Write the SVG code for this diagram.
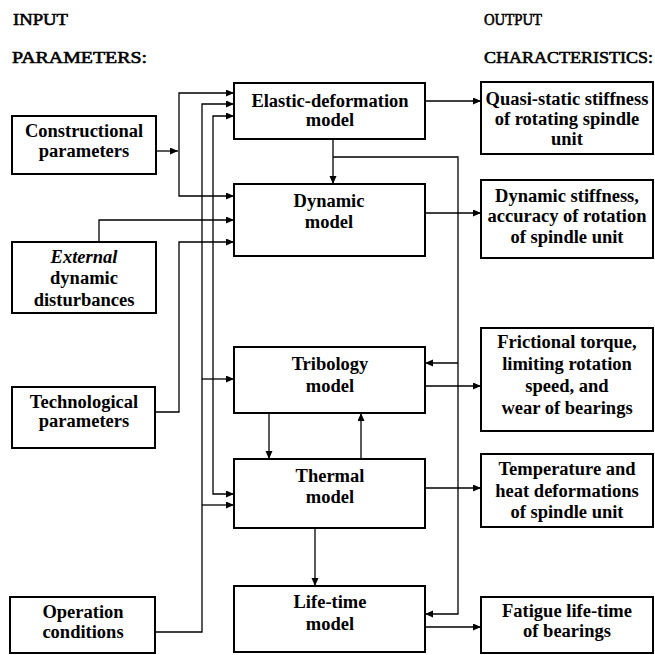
<svg xmlns="http://www.w3.org/2000/svg" width="655" height="655" viewBox="0 0 655 655">
<defs>
<marker id="ah" markerWidth="9" markerHeight="8" refX="8" refY="3.5" orient="auto" markerUnits="userSpaceOnUse">
<path d="M0,0 L8,3.5 L0,7 z" fill="#000"/>
</marker>
<style>
.box{fill:#fff;stroke:#000;stroke-width:2}
.t{font-family:"Liberation Serif","Times New Roman",serif;font-weight:bold;font-size:18.5px;text-anchor:middle;fill:#000}
.h{font-family:"Liberation Serif","Times New Roman",serif;font-size:17px;fill:#000;stroke:#000;stroke-width:0.6}
.c{fill:none;stroke:#000;stroke-width:1.3}
.a{marker-end:url(#ah)}
</style>
</defs>
<rect width="655" height="655" fill="#fff"/>

<g id="headers">
<text class="h" x="13" y="25" textLength="55" lengthAdjust="spacingAndGlyphs">INPUT</text>
<text class="h" x="12" y="63" textLength="135" lengthAdjust="spacingAndGlyphs">PARAMETERS:</text>
<text class="h" x="484" y="25" textLength="58" lengthAdjust="spacingAndGlyphs">OUTPUT</text>
<text class="h" x="484" y="63" textLength="169" lengthAdjust="spacingAndGlyphs">CHARACTERISTICS:</text>
</g>

<g id="connectors">
<path class="c a" d="M156,151 H178"/>
<path class="c a" d="M179,151 V93 H234"/>
<path class="c a" d="M179,151 V196 H234"/>
<path class="c a" d="M99,242 V220 H234"/>
<path class="c a" d="M155,412 H179 V242 H234"/>
<path class="c a" d="M155,632 H202 V104 H234"/>
<path class="c a" d="M202,379 H234"/>
<path class="c a" d="M202,505 H234"/>
<path class="c a" d="M213,300 V116 H234"/>
<path class="c a" d="M213,300 V494 H234"/>
<path class="c a" d="M333,139 V184"/>
<path class="c a" d="M333,157 H458 V614 H425"/>
<path class="c a" d="M458,363 H425"/>
<path class="c a" d="M425,101 H481"/>
<path class="c a" d="M425,213 H481"/>
<path class="c a" d="M425,386 H481"/>
<path class="c a" d="M425,488 H481"/>
<path class="c a" d="M425,627 H481"/>
<path class="c a" d="M269,413 V459"/>
<path class="c a" d="M361,459 V413"/>
<path class="c a" d="M315,528 V586"/>
</g>

<g id="constructional">
<rect class="box" x="12" y="116" width="144" height="58"/>
<text class="t" x="84" y="137">Constructional</text>
<text class="t" x="84" y="157">parameters</text>
</g>
<g id="external">
<rect class="box" x="12" y="242" width="144" height="71"/>
<text class="t" x="84" y="263" font-style="italic">External</text>
<text class="t" x="84" y="284">dynamic</text>
<text class="t" x="84" y="306">disturbances</text>
</g>
<g id="technological">
<rect class="box" x="12" y="387" width="143" height="61"/>
<text class="t" x="84" y="408">Technological</text>
<text class="t" x="84" y="427">parameters</text>
</g>
<g id="operation">
<rect class="box" x="10" y="597" width="145" height="56"/>
<text class="t" x="83" y="618">Operation</text>
<text class="t" x="83" y="638">conditions</text>
</g>

<g id="elastic">
<rect class="box" x="234" y="83" width="191" height="56"/>
<text class="t" x="330" y="107">Elastic-deformation</text>
<text class="t" x="330" y="126">model</text>
</g>
<g id="dynamic">
<rect class="box" x="234" y="184" width="191" height="72"/>
<text class="t" x="329" y="207">Dynamic</text>
<text class="t" x="329" y="228">model</text>
</g>
<g id="tribology">
<rect class="box" x="234" y="347" width="191" height="66"/>
<text class="t" x="330" y="370">Tribology</text>
<text class="t" x="330" y="392">model</text>
</g>
<g id="thermal">
<rect class="box" x="234" y="459" width="191" height="69"/>
<text class="t" x="330" y="482">Thermal</text>
<text class="t" x="330" y="503">model</text>
</g>
<g id="lifetime">
<rect class="box" x="234" y="586" width="191" height="66"/>
<text class="t" x="330" y="608">Life-time</text>
<text class="t" x="330" y="630">model</text>
</g>

<g id="quasi">
<rect class="box" x="481" y="82" width="172" height="72"/>
<text class="t" x="567" y="105">Quasi-static stiffness</text>
<text class="t" x="567" y="125">of rotating spindle</text>
<text class="t" x="567" y="145">unit</text>
</g>
<g id="dynstiff">
<rect class="box" x="481" y="180" width="172" height="78"/>
<text class="t" x="567" y="202">Dynamic stiffness,</text>
<text class="t" x="567" y="222">accuracy of rotation</text>
<text class="t" x="567" y="243">of spindle unit</text>
</g>
<g id="frictional">
<rect class="box" x="481" y="328" width="172" height="103"/>
<text class="t" x="567" y="348">Frictional torque,</text>
<text class="t" x="567" y="370">limiting rotation</text>
<text class="t" x="567" y="392">speed, and</text>
<text class="t" x="567" y="414">wear of bearings</text>
</g>
<g id="temperature">
<rect class="box" x="481" y="454" width="172" height="73"/>
<text class="t" x="567" y="475">Temperature and</text>
<text class="t" x="567" y="497">heat deformations</text>
<text class="t" x="567" y="518">of spindle unit</text>
</g>
<g id="fatigue">
<rect class="box" x="481" y="597" width="172" height="56"/>
<text class="t" x="567" y="617">Fatigue life-time</text>
<text class="t" x="567" y="637">of bearings</text>
</g>
</svg>
